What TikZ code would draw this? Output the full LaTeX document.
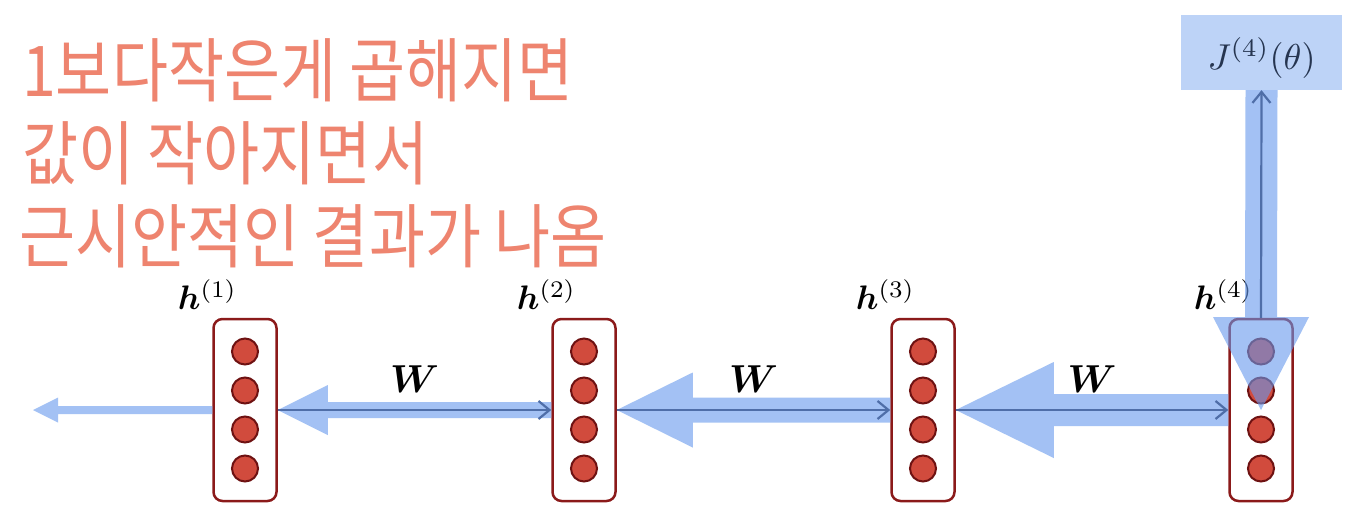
\documentclass[tikz,border=0pt]{standalone}
\usepackage{amsmath}
\usepackage{bm}
\usepackage{graphicx}
\usepackage{fontspec}
\newfontfamily\kr[FakeStretch=0.87]{Noto Sans CJK KR}
\usetikzlibrary{arrows.meta,calc}
\definecolor{salmon}{HTML}{EE846F}
\definecolor{boxred}{HTML}{8B1A1A}
\definecolor{unitred}{HTML}{D14B3D}
\definecolor{unitdark}{HTML}{6E1212}
\definecolor{bandblue}{RGB}{103,153,237}
\definecolor{thinblue}{HTML}{4F6EA8}
\definecolor{jfill}{HTML}{BDD3F7}
\definecolor{jtext}{HTML}{263550}
\begin{document}
\begin{tikzpicture}[x=1pt,y=-1pt,
  hbox/.style={draw=boxred, line width=2.5pt, rounded corners=9pt, minimum width=63pt, minimum height=182pt, inner sep=0pt, fill=white},
  unit/.style={circle, fill=unitred, draw=unitdark, line width=2pt, minimum size=26pt, inner sep=0pt},
  hlab/.style={anchor=base east, inner sep=0pt},
  wlab/.style={anchor=base, inner sep=0pt},
  band/.style={fill=bandblue, fill opacity=0.6},
  thinarrow/.style={draw=thinblue, line width=2.2pt, -{Straight Barb[length=11pt,width=18pt]}},
  jbox/.style={fill=jfill, minimum width=161pt, minimum height=75pt, inner sep=0pt},
  jlab/.style={anchor=base, inner sep=0pt, text=jtext},
  krtext/.style={anchor=base west, inner sep=0pt, text=salmon, font=\kr\fontsize{70}{83}\selectfont}]
\useasboundingbox (0,0) rectangle (1360,515);
\fill[white] (0,0) rectangle (1360,515);

% Korean text
\node[krtext] (t1) at (22,96) {1보다작은게 곱해지면};
\node[krtext] (t2) at (22,179) {값이 작아지면서};
\node[krtext] (t3) at (19,262) {근시안적인 결과가 나옴};

% hidden layers
\foreach \i/\x in {1/245,2/584,3/923,4/1261} {
  \node[hbox] (h\i) at (\x,410) {};
  \foreach \j/\dy in {1/-58.5,2/-19.5,3/19.5,4/58.5}
    \node[unit] (h\i-\j) at (\x,410+\dy) {};
  \node[hlab] (l\i) at ($(h\i.north west)+(25,-8)$) {\scalebox{3.4}{$\bm{h}^{(\i)}$}};
}

% loss box
\node[jbox] (J) at (1261.5,52.5) {};
\node[jlab] (Jt) at ($(J.center)+(0,17)$) {\scalebox{3.6}{$J^{(4)}(\theta)$}};

% W labels
\node[wlab] (w1) at ($(h1.east)!0.5!(h2.west)+(0,-18)$) {\scalebox{3.9}{$\bm{W}$}};
\node[wlab] (w2) at ($(h2.east)!0.5!(h3.west)+(0,-18)$) {\scalebox{3.9}{$\bm{W}$}};
\node[wlab] (w3) at ($(h3.east)!0.5!(h4.west)+(0,-18)$) {\scalebox{3.9}{$\bm{W}$}};

% gradient bands
\coordinate (end0) at (33,410);
\fill[band] (end0) -- ++(25,-12.5) -- ++(0,8.5) -- ($(h1.west)+(0,-4)$) -- ($(h1.west)+(0,4)$) -- ($(end0)+(25,4)$) -- ++(0,8.5) -- cycle;
\fill[band] (h1.east) -- ++(50,-25) -- ++(0,17) -- ($(h2.west)+(0,-8)$) -- ($(h2.west)+(0,8)$) -- ($(h1.east)+(50,8)$) -- ++(0,17) -- cycle;
\fill[band] (h2.east) -- ++(76,-37.5) -- ++(0,25) -- ($(h3.west)+(0,-12.5)$) -- ($(h3.west)+(0,12.5)$) -- ($(h2.east)+(76,12.5)$) -- ++(0,25) -- cycle;
\fill[band] (h3.east) -- ++(98,-48) -- ++(0,32) -- ($(h4.west)+(0,-16)$) -- ($(h4.west)+(0,16)$) -- ($(h3.east)+(98,16)$) -- ++(0,32) -- cycle;
\fill[band] ($(J.south)+(-16,0)$) -- ($(J.south)+(16,0)$) -- ($(h4.center)+(16,-93)$) -- ++(32,0) -- (h4.center) -- ++(-48,-93) -- ++(32,0) -- cycle;

% forward arrows
\draw[thinarrow] (h1.east) -- (h2.west);
\draw[thinarrow] (h2.east) -- (h3.west);
\draw[thinarrow] (h3.east) -- (h4.west);
\draw[thinarrow] (h4.north) -- (J.south);
\end{tikzpicture}
\end{document}
